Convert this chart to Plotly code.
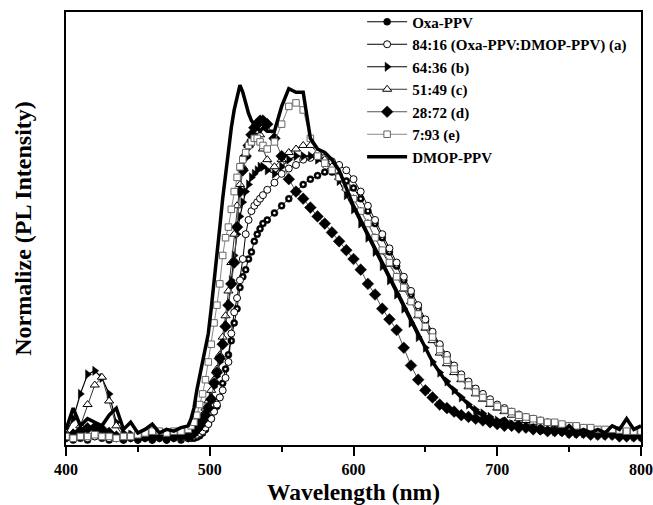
import plotly.graph_objects as go

wavelength = [400, 405, 410, 415, 420, 425, 430, 435, 440, 445, 450, 455, 460, 465, 470, 475, 480, 485,
              487, 489, 491, 493, 495, 497, 499, 501, 503, 505, 507, 509, 511, 513, 515, 517, 519, 521, 523, 525,
              527, 529, 531, 533, 535, 537,
              540, 545, 550, 555, 560, 565, 570, 575, 580, 585, 590, 595, 600, 605, 610, 615, 620, 625, 630, 635,
              640, 645, 650, 655, 660, 665, 670, 675, 680, 685, 690, 695, 700, 705, 710, 715, 720, 725, 730, 735,
              740, 745, 750, 755, 760, 765, 770, 775, 780, 785, 790, 795, 800]

oxa_ppv = [0.005, 0.0, 0.005, 0.0, 0.01, 0.005, 0.0, 0.005, 0.0, 0.005, 0.0, 0.005, 0.0, 0.005, 0.0, 0.005, 0.0, 0.005,
           0.005, 0.005, 0.008, 0.012, 0.02, 0.03, 0.045, 0.06, 0.08, 0.095, 0.12, 0.16, 0.20, 0.24, 0.28, 0.33, 0.37, 0.43,
           0.46, 0.48, 0.51, 0.53, 0.56, 0.58, 0.595, 0.61,
           0.62, 0.64, 0.66, 0.68, 0.70, 0.72, 0.735, 0.745, 0.755, 0.755, 0.745, 0.73, 0.71, 0.68, 0.645, 0.61, 0.57,
           0.53, 0.49, 0.45, 0.41, 0.37, 0.335, 0.30, 0.265, 0.235, 0.205, 0.18, 0.16, 0.14, 0.12, 0.105, 0.095, 0.085,
           0.075, 0.068, 0.06, 0.055, 0.05, 0.045, 0.04, 0.037, 0.034, 0.03, 0.028, 0.025, 0.024, 0.022, 0.02, 0.018,
           0.017, 0.015, 0.014]

blend_a = [0.01, 0.005, 0.01, 0.005, 0.01, 0.01, 0.005, 0.01, 0.005, 0.01, 0.005, 0.01, 0.005, 0.01, 0.005, 0.01, 0.005, 0.005,
           0.01, 0.012, 0.015, 0.02, 0.025, 0.035, 0.045, 0.06, 0.08, 0.10, 0.12, 0.14, 0.175, 0.22, 0.30, 0.36, 0.40, 0.45,
           0.51, 0.58, 0.62, 0.645, 0.66, 0.67, 0.68, 0.69,
           0.705, 0.725, 0.75, 0.765, 0.775, 0.79, 0.795, 0.80, 0.795, 0.785, 0.775, 0.76, 0.735, 0.70, 0.66, 0.62, 0.58,
           0.54, 0.50, 0.46, 0.42, 0.38, 0.34, 0.305, 0.27, 0.24, 0.21, 0.185, 0.165, 0.145, 0.13, 0.115, 0.10, 0.09,
           0.08, 0.072, 0.065, 0.06, 0.055, 0.05, 0.045, 0.042, 0.04, 0.036, 0.033, 0.03, 0.028, 0.026, 0.025, 0.023,
           0.022, 0.02, 0.02]

blend_b = [0.02, 0.06, 0.13, 0.185, 0.195, 0.175, 0.13, 0.05, 0.02, 0.015, 0.01, 0.015, 0.01, 0.015, 0.01, 0.015, 0.01, 0.015,
           0.015, 0.02, 0.03, 0.04, 0.05, 0.07, 0.09, 0.12, 0.15, 0.18, 0.22, 0.27, 0.32, 0.38, 0.45, 0.52, 0.58, 0.63,
           0.67, 0.70, 0.72, 0.74, 0.75, 0.76, 0.77, 0.77,
           0.76, 0.75, 0.77, 0.79, 0.80, 0.80, 0.80, 0.79, 0.78, 0.76, 0.73, 0.69, 0.65, 0.61, 0.57, 0.53, 0.49,
           0.45, 0.41, 0.37, 0.33, 0.29, 0.26, 0.22, 0.19, 0.165, 0.14, 0.12, 0.10, 0.085, 0.075, 0.065, 0.055, 0.05,
           0.045, 0.04, 0.035, 0.035, 0.03, 0.03, 0.025, 0.025, 0.02, 0.02, 0.02, 0.02, 0.015, 0.015, 0.015, 0.015,
           0.015, 0.01, 0.01]

blend_c = [0.02, 0.02, 0.04, 0.10, 0.155, 0.177, 0.11, 0.04, 0.01, 0.01, 0.005, 0.01, 0.01, 0.015, 0.01, 0.015, 0.01, 0.01,
           0.02, 0.03, 0.04, 0.05, 0.07, 0.09, 0.11, 0.14, 0.17, 0.20, 0.24, 0.29, 0.35, 0.42, 0.50, 0.58, 0.66, 0.72,
           0.77, 0.80, 0.83, 0.85, 0.86, 0.87, 0.86, 0.82,
           0.79, 0.77, 0.79, 0.81, 0.82, 0.83, 0.83, 0.81, 0.79, 0.77, 0.74, 0.71, 0.68, 0.645, 0.61, 0.57, 0.53,
           0.495, 0.46, 0.425, 0.39, 0.35, 0.315, 0.28, 0.245, 0.215, 0.19, 0.17, 0.15, 0.13, 0.115, 0.10, 0.09, 0.08,
           0.07, 0.06, 0.055, 0.05, 0.045, 0.04, 0.035, 0.033, 0.03, 0.028, 0.025, 0.023, 0.02, 0.02, 0.018, 0.017,
           0.016, 0.015, 0.015]

blend_d = [0.01, 0.015, 0.025, 0.033, 0.035, 0.03, 0.02, 0.01, 0.005, 0.01, 0.005, 0.01, 0.005, 0.01, 0.005, 0.01, 0.01, 0.01,
           0.015, 0.02, 0.03, 0.04, 0.055, 0.07, 0.09, 0.115, 0.16, 0.19, 0.23, 0.27, 0.32, 0.38, 0.44, 0.50, 0.60, 0.70,
           0.76, 0.80, 0.83, 0.86, 0.88, 0.89, 0.90, 0.90,
           0.89, 0.85, 0.80, 0.735, 0.70, 0.68, 0.655, 0.63, 0.61, 0.585, 0.56, 0.535, 0.51, 0.48, 0.44, 0.41, 0.37,
           0.34, 0.31, 0.26, 0.21, 0.17, 0.14, 0.12, 0.10, 0.09, 0.08, 0.07, 0.065, 0.06, 0.055, 0.05, 0.045, 0.04,
           0.04, 0.035, 0.035, 0.03, 0.03, 0.025, 0.025, 0.025, 0.02, 0.02, 0.02, 0.015, 0.015, 0.015, 0.015, 0.01,
           0.01, 0.01, 0.01]

blend_e = [0.01, 0.005, 0.01, 0.01, 0.015, 0.01, 0.01, 0.005, 0.01, 0.01, 0.015, 0.02, 0.025, 0.025, 0.02, 0.025, 0.025, 0.03,
           0.04, 0.05, 0.07, 0.10, 0.13, 0.17, 0.22, 0.27, 0.33, 0.38, 0.44, 0.52, 0.57, 0.60, 0.65, 0.70, 0.74, 0.77,
           0.79, 0.81, 0.83, 0.84, 0.85, 0.85, 0.84, 0.83,
           0.82, 0.84, 0.89, 0.94, 0.95, 0.93, 0.85, 0.80, 0.78, 0.76, 0.74, 0.71, 0.68, 0.645, 0.61, 0.57, 0.535,
           0.50, 0.46, 0.43, 0.39, 0.355, 0.32, 0.29, 0.255, 0.225, 0.20, 0.175, 0.155, 0.135, 0.12, 0.105, 0.095, 0.085,
           0.08, 0.07, 0.065, 0.06, 0.055, 0.05, 0.05, 0.045, 0.04, 0.04, 0.035, 0.035, 0.03, 0.03, 0.03, 0.028,
           0.025, 0.025, 0.025]

dmop_ppv = [0.03, 0.09, 0.04, 0.06, 0.05, 0.04, 0.07, 0.09, 0.03, 0.05, 0.02, 0.03, 0.045, 0.02, 0.03, 0.025, 0.035, 0.04,
            0.06, 0.09, 0.14, 0.18, 0.22, 0.26, 0.30, 0.37, 0.44, 0.52, 0.60, 0.68, 0.75, 0.82, 0.88, 0.93, 0.97, 1.00,
            0.98, 0.95, 0.92, 0.90, 0.89, 0.88, 0.87, 0.88,
            0.87, 0.87, 0.94, 0.99, 0.98, 0.98, 0.85, 0.82, 0.81, 0.79, 0.76, 0.71, 0.66, 0.62, 0.58, 0.54, 0.50,
            0.46, 0.42, 0.38, 0.34, 0.30, 0.26, 0.22, 0.19, 0.16, 0.14, 0.12, 0.10, 0.08, 0.07, 0.06, 0.05, 0.06,
            0.04, 0.05, 0.03, 0.04, 0.02, 0.03, 0.03, 0.02, 0.04, 0.02, 0.03, 0.02, 0.03, 0.02, 0.04, 0.03,
            0.06, 0.03, 0.04]

series_names = ["Oxa-PPV", "84:16 (Oxa-PPV:DMOP-PPV) (a)", "64:36 (b)", "51:49 (c)",
                "28:72 (d)", "7:93 (e)", "DMOP-PPV"]
x_ticks = [400, 500, 600, 700, 800]
x_tick_labels = ["400", "500", "600", "700", "800"]

FONT = "Liberation Serif, Times New Roman, serif"

fig = go.Figure()

# Oxa-PPV: half-filled circles (black circle with white centre dot)
fig.add_trace(go.Scatter(x=wavelength, y=oxa_ppv, name=series_names[0], mode="lines+markers",
                         line=dict(color="black", width=1),
                         marker=dict(symbol="circle", size=7, color="black",
                                     line=dict(color="black", width=0.5))))
fig.add_trace(go.Scatter(x=wavelength, y=oxa_ppv, mode="markers", showlegend=False, hoverinfo="skip",
                         marker=dict(symbol="circle", size=2.5, color="white", line=dict(width=0))))
fig.add_trace(go.Scatter(x=wavelength, y=blend_a, name=series_names[1], mode="lines+markers",
                         line=dict(color="black", width=1),
                         marker=dict(symbol="circle", size=7, color="white",
                                     line=dict(color="black", width=1))))
fig.add_trace(go.Scatter(x=wavelength, y=blend_b, name=series_names[2], mode="lines+markers",
                         line=dict(color="black", width=1.2),
                         marker=dict(symbol="triangle-right", size=8, color="black",
                                     line=dict(color="black", width=0.5))))
fig.add_trace(go.Scatter(x=wavelength, y=blend_c, name=series_names[3], mode="lines+markers",
                         line=dict(color="#333333", width=1),
                         marker=dict(symbol="triangle-up", size=8, color="white",
                                     line=dict(color="black", width=1))))
fig.add_trace(go.Scatter(x=wavelength, y=blend_d, name=series_names[4], mode="lines+markers",
                         line=dict(color="#555555", width=1),
                         marker=dict(symbol="diamond", size=9, color="black",
                                     line=dict(color="black", width=0.5))))
fig.add_trace(go.Scatter(x=wavelength, y=blend_e, name=series_names[5], mode="lines+markers",
                         line=dict(color="#888888", width=1),
                         marker=dict(symbol="square", size=6.5, color="white",
                                     line=dict(color="#666666", width=1))))
fig.add_trace(go.Scatter(x=wavelength, y=dmop_ppv, name=series_names[6], mode="lines",
                         line=dict(color="black", width=3.5)))

fig.update_layout(
    width=653, height=505,
    margin=dict(l=66, r=12, t=12, b=60, autoexpand=False),
    paper_bgcolor="white", plot_bgcolor="white",
    font=dict(family=FONT, color="black", size=15, weight="bold"),
    showlegend=True,
    legend=dict(x=0.515, y=1.015, xanchor="left", yanchor="top",
                bgcolor="rgba(0,0,0,0)", borderwidth=0,
                font=dict(family=FONT, size=15, color="black", weight="bold"),
                tracegroupgap=0, itemwidth=40),
)

fig.update_xaxes(range=[400, 800], tickvals=x_ticks, ticktext=x_tick_labels, automargin=False,
                 ticks="outside", ticklen=9, tickwidth=1.5, tickcolor="black", ticklabelstandoff=0,
                 minor=dict(dtick=50, ticks="outside", ticklen=5, tickwidth=1.5, tickcolor="black"),
                 showline=True, linecolor="black", linewidth=2, mirror=True,
                 showgrid=False, zeroline=False,
                 tickfont=dict(family=FONT, size=16, color="black", weight="bold"),
                 title=dict(text="Wavelength (nm)", standoff=16,
                            font=dict(family=FONT, size=23.5, color="black", weight="bold")))
fig.update_yaxes(range=[-0.014, 1.206], showticklabels=False, ticks="", automargin=False,
                 showline=True, linecolor="black", linewidth=2, mirror=True,
                 showgrid=False, zeroline=False,
                 title=dict(text="Normalize (PL Intensity)", standoff=26,
                            font=dict(family=FONT, size=24, color="black", weight="bold")))

fig.write_html("out.html")
